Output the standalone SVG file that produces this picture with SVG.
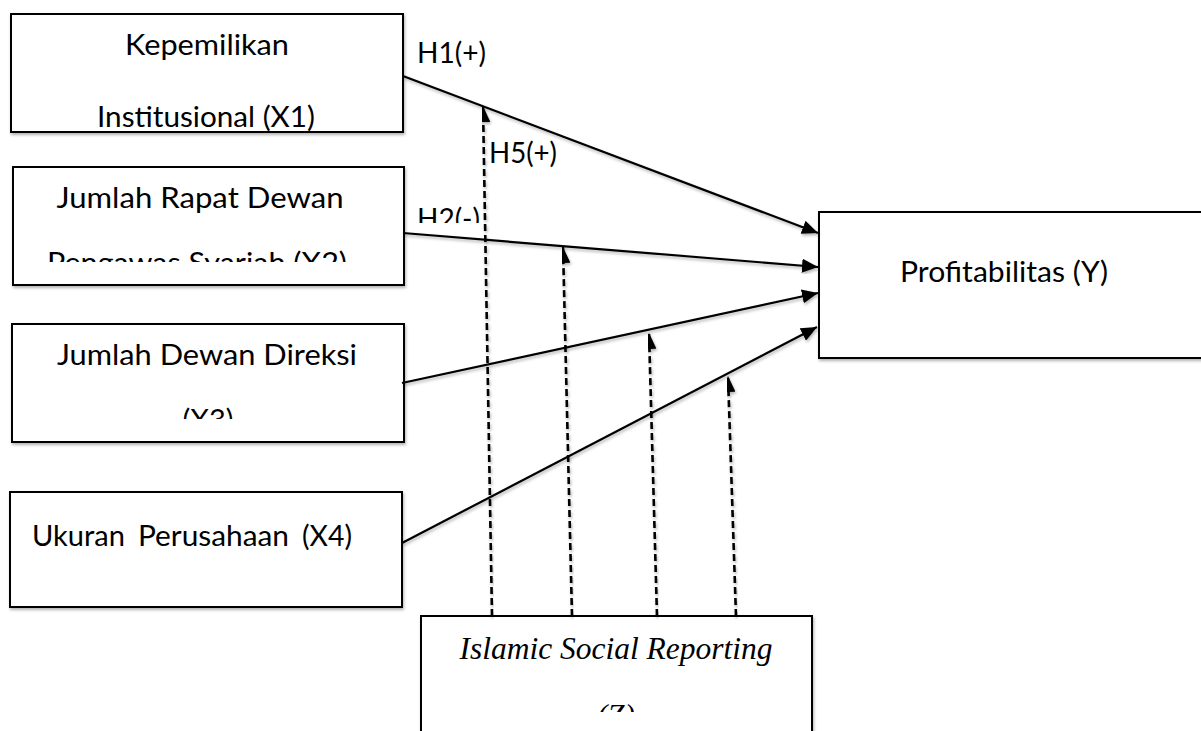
<svg xmlns="http://www.w3.org/2000/svg" width="1201" height="731" viewBox="0 0 1201 731">
<style>
.box{fill:#fff;stroke:#000;stroke-width:2;filter:url(#sh)}
.t{font-family:Lato,"Open Sans","Liberation Sans",sans-serif;font-size:28px;fill:#000}
.c{text-anchor:middle}
.i{font-family:"Liberation Serif","DejaVu Serif",serif;font-style:italic;font-size:31px;fill:#000}
.ln{stroke:#000;stroke-width:2.2;fill:none;marker-end:url(#ah);filter:url(#sh)}
.dl{stroke:#000;stroke-width:2.6;fill:none;stroke-dasharray:7 4;marker-end:url(#ah);filter:url(#sh)}
</style>
<defs>
<filter id="sh" x="-10%" y="-10%" width="130%" height="130%">
<feDropShadow dx="1" dy="2" stdDeviation="1.5" flood-color="#000" flood-opacity="0.3"/>
</filter>
<marker id="ah" viewBox="0 0 16 14" refX="16" refY="7" markerWidth="16" markerHeight="14" markerUnits="userSpaceOnUse" orient="auto">
<path d="M0,0 L16,7 L0,14 z" fill="#000"/>
</marker>
<clipPath id="c2"><rect x="0" y="0" width="1201" height="262"/></clipPath>
<clipPath id="c3"><rect x="0" y="0" width="1201" height="419"/></clipPath>
<clipPath id="cz"><rect x="0" y="0" width="1201" height="712"/></clipPath>
<clipPath id="ch2"><rect x="0" y="0" width="1201" height="223"/></clipPath>
</defs>

<g id="x1">
<rect class="box" x="11" y="14" width="392" height="118"/>
<text class="t c" x="207" y="55" textLength="164" lengthAdjust="spacingAndGlyphs">Kepemilikan</text>
<text class="t c" x="206" y="127" textLength="218" lengthAdjust="spacingAndGlyphs">Institusional (X1)</text>
</g>
<g id="x2">
<rect class="box" x="13" y="167" width="391" height="118"/>
<text class="t c" x="200" y="208" textLength="287" lengthAdjust="spacingAndGlyphs">Jumlah Rapat Dewan</text>
<text class="t c" x="197" y="273" textLength="300" lengthAdjust="spacingAndGlyphs" clip-path="url(#c2)">Pengawas  Syariah  (X2)</text>
</g>
<g id="x3">
<rect class="box" x="12" y="324" width="392" height="118"/>
<text class="t c" x="207" y="365" textLength="300" lengthAdjust="spacingAndGlyphs">Jumlah Dewan Direksi</text>
<text class="t c" x="208" y="430" textLength="51" lengthAdjust="spacingAndGlyphs" clip-path="url(#c3)">(X3)</text>
</g>
<g id="x4">
<rect class="box" x="10" y="492" width="392" height="115"/>
<text class="t" x="32" y="546" textLength="93" lengthAdjust="spacingAndGlyphs">Ukuran</text>
<text class="t" x="138" y="546" textLength="151" lengthAdjust="spacingAndGlyphs">Perusahaan</text>
<text class="t" x="302" y="546" textLength="50" lengthAdjust="spacingAndGlyphs">(X4)</text>
</g>
<g id="y">
<rect class="box" x="819" y="212" width="400" height="146"/>
<text class="t c" x="1004" y="282" textLength="208" lengthAdjust="spacingAndGlyphs">Profitabilitas (Y)</text>
</g>
<g id="z">
<rect class="box" x="421" y="616" width="391" height="130"/>
<text class="i c" x="616" y="659" textLength="313" lengthAdjust="spacingAndGlyphs">Islamic Social Reporting</text>
<text class="i c" x="616" y="726" clip-path="url(#cz)">(Z)</text>
</g>

<g id="connectors">
<line class="ln" x1="403" y1="76" x2="818" y2="233"/>
<line class="ln" x1="403" y1="233" x2="818" y2="267"/>
<line class="ln" x1="402" y1="383" x2="818" y2="293"/>
<line class="ln" x1="402" y1="543" x2="817" y2="327"/>
<line class="dl" x1="492" y1="616" x2="483" y2="106"/>
<line class="dl" x1="572" y1="616" x2="563" y2="247"/>
<line class="dl" x1="657" y1="616" x2="649" y2="333"/>
<line class="dl" x1="736" y1="616" x2="728" y2="376"/>
</g>

<g id="labels">
<text class="t" x="417" y="63" textLength="69" lengthAdjust="spacingAndGlyphs">H1(+)</text>
<text class="t" x="417" y="229" textLength="63" lengthAdjust="spacingAndGlyphs" clip-path="url(#ch2)">H2(-)</text>
<text class="t" x="489" y="163" textLength="68" lengthAdjust="spacingAndGlyphs">H5(+)</text>
</g>
</svg>
